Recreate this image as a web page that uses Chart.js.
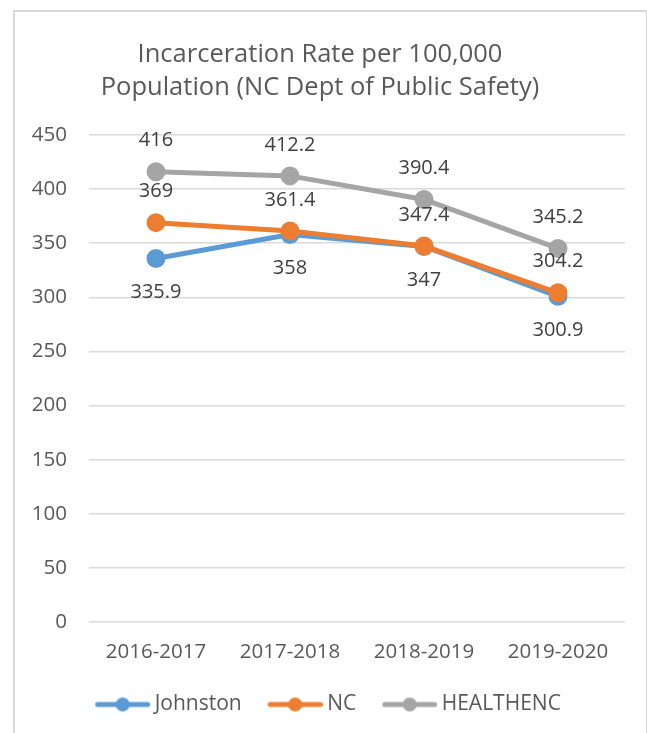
<!DOCTYPE html>
<html lang="en">
<head>
  <meta charset="UTF-8" />
  <title>Incarceration Rate per 100,000 Population</title>
  <script src="https://cdn.jsdelivr.net/npm/chart.js"></script>
  <style>
    body { margin: 0; background: #fff; }
    #box { position: absolute; left: 13px; top: 10px; width: 631px; height: 723px;
           border: 2px solid #d9d9d9; border-bottom: none; }
    #chart { display: block; }
  </style>
</head>
<body>
  <div id="box"><canvas id="chart" width="631" height="721"></canvas></div>

  <script>
    const years = ['2016-2017', '2017-2018', '2018-2019', '2019-2020'];
    const johnston = [335.9, 358, 347, 300.9];
    const nc = [369, 361.4, 347.4, 304.2];
    const healthenc = [416, 412.2, 390.4, 345.2];
    const yTicks = [0, 50, 100, 150, 200, 250, 300, 350, 400, 450];

    const FONT = "'Open Sans', sans-serif";
    const TEXT = '#595959';
    const BOXW = 65;

    // legend marker: line with a dot, sitting right next to the text
    function marker(color) {
      const w = BOXW + 12.5;
      const c = document.createElement('canvas');
      c.width = w; c.height = 16;
      const g = c.getContext('2d');
      const x0 = w - 56;
      g.strokeStyle = color; g.lineWidth = 5; g.lineCap = 'round';
      g.beginPath(); g.moveTo(x0 + 3, 8); g.lineTo(w - 3, 8); g.stroke();
      g.fillStyle = color;
      g.beginPath(); g.arc(x0 + 28, 8, 7, 0, Math.PI * 2); g.fill();
      return c;
    }

    // values written next to each point
    const pointLabels = {
      id: 'pointLabels',
      afterDatasetsDraw(chart) {
        const ctx = chart.ctx;
        ctx.save();
        ctx.font = '20px ' + FONT;
        ctx.fillStyle = '#404040';
        ctx.textAlign = 'center';
        ctx.textBaseline = 'middle';
        chart.data.datasets.forEach((ds, i) => {
          chart.getDatasetMeta(i).data.forEach((pt, j) => {
            ctx.fillText(String(ds.data[j]), pt.x, pt.y + ds.labelShift);
          });
        });
        ctx.restore();
      }
    };

    const series = [
      { label: 'Johnston', data: johnston, color: '#5b9bd5', shift: 34, order: 3 },
      { label: 'NC', data: nc, color: '#ed7d31', shift: -31, order: 2 },
      { label: 'HEALTHENC', data: healthenc, color: '#a5a5a5', shift: -31, order: 1 }
    ];

    new Chart(document.getElementById('chart'), {
      type: 'line',
      data: {
        labels: years,
        datasets: series.map(s => ({
          label: s.label,
          data: s.data,
          order: s.order,
          borderColor: s.color,
          backgroundColor: s.color,
          borderWidth: 5,
          pointRadius: 7,
          pointHoverRadius: 7,
          tension: 0,
          labelShift: s.shift,
          legendMarker: marker(s.color)
        }))
      },
      options: {
        responsive: false,
        animation: false,
        layout: { padding: { left: 0, right: 21, top: 0, bottom: 8 } },
        plugins: {
          title: {
            display: true,
            text: ['Incarceration Rate per 100,000', 'Population (NC Dept of Public Safety)'],
            color: TEXT,
            font: { family: FONT, size: 25.5, weight: 'normal', lineHeight: 1.294 },
            padding: { top: 26, bottom: 31 }
          },
          legend: {
            position: 'bottom',
            labels: {
              color: TEXT,
              font: { family: FONT, size: 21 },
              usePointStyle: true,
              pointStyleWidth: BOXW,
              padding: 10,
              generateLabels(chart) {
                return chart.data.datasets.map((ds, i) => ({
                  text: ds.label,
                  pointStyle: ds.legendMarker,
                  fillStyle: ds.borderColor,
                  strokeStyle: ds.borderColor,
                  lineWidth: 0,
                  fontColor: TEXT,
                  hidden: false,
                  datasetIndex: i
                }));
              }
            }
          },
          tooltip: { enabled: false }
        },
        scales: {
          x: {
            offset: true,
            grid: { display: false },
            border: { display: false },
            ticks: { color: TEXT, font: { family: FONT, size: 20.5 }, padding: 10, maxRotation: 0 },
            afterFit(scale) { scale.height = 62; }
          },
          y: {
            min: 0,
            max: 450,
            afterBuildTicks(scale) { scale.ticks = yTicks.map(v => ({ value: v })); },
            grid: { color: '#d9d9d9', lineWidth: 1.5, drawTicks: false },
            border: { display: false },
            ticks: { color: TEXT, font: { family: FONT, size: 20.5 }, padding: 22 },
            afterFit(scale) { scale.width = 74; }
          }
        }
      },
      plugins: [pointLabels]
    });
  </script>
</body>
</html>
